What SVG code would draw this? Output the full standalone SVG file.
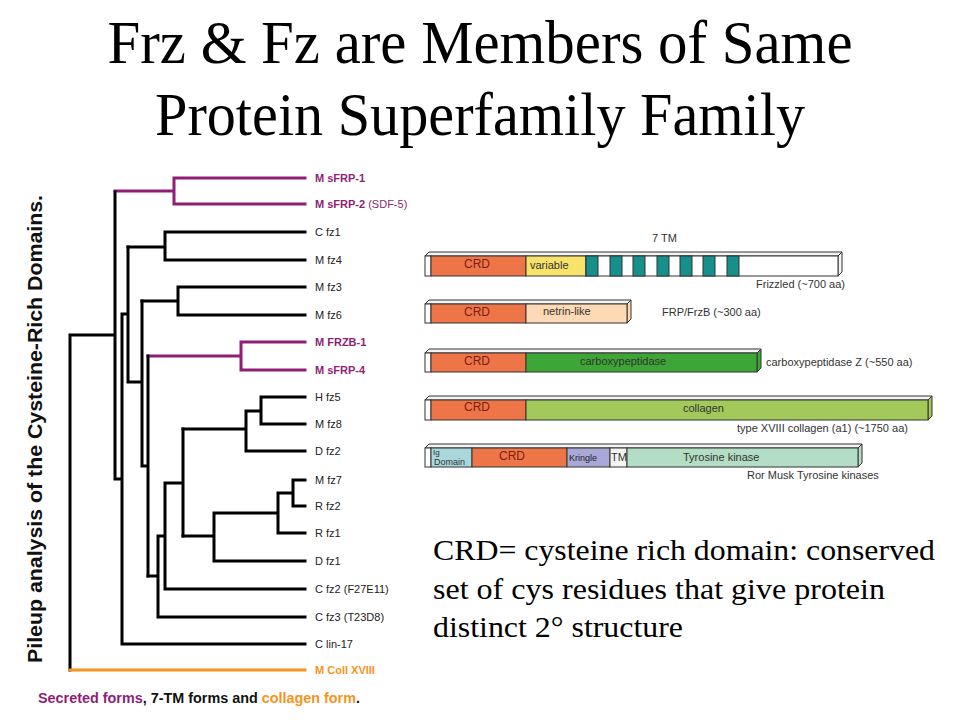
<svg xmlns="http://www.w3.org/2000/svg" width="960" height="720" viewBox="0 0 960 720">
<style>
.title{font-family:"Liberation Serif","Times New Roman",serif;font-size:61px;fill:#000}
.body{font-family:"Liberation Serif","Times New Roman",serif;font-size:29px;fill:#000}
.lbl{font-family:"Liberation Sans",Arial,sans-serif;font-size:11px;fill:#222}
.lblp{font-family:"Liberation Sans",Arial,sans-serif;font-size:11px;font-weight:bold;fill:#8E1F74}
.lblo{font-family:"Liberation Sans",Arial,sans-serif;font-size:11px;font-weight:bold;fill:#F7941D}
.reg{font-weight:normal}
.vt{font-family:"Liberation Sans",Arial,sans-serif;font-size:19.5px;font-weight:bold;fill:#111}
.cap{font-family:"Liberation Sans",Arial,sans-serif;font-size:14px;font-weight:bold;fill:#111}
.bk{fill:none;stroke:#000;stroke-width:3;stroke-linejoin:miter;stroke-linecap:square}
.pu{fill:none;stroke:#8E1F74;stroke-width:3;stroke-linecap:square}
.or{fill:none;stroke:#F7941D;stroke-width:3;stroke-linecap:square}
.seg{stroke:#333;stroke-width:1}
.bt{font-family:"Liberation Sans",Arial,sans-serif;font-size:11px;fill:#333}
.crdt{font-family:"Liberation Sans",Arial,sans-serif;font-size:12px;fill:#7A1E12;text-anchor:middle}
.crd{fill:#EE7547}
</style>

<g id="title">
<text class="title" x="480" y="63" text-anchor="middle" textLength="745" lengthAdjust="spacingAndGlyphs">Frz &amp; Fz are Members of Same</text>
<text class="title" x="480" y="135" text-anchor="middle" textLength="650" lengthAdjust="spacingAndGlyphs">Protein Superfamily Family</text>
</g>

<g id="axis-label">
<text class="vt" transform="translate(42,663) rotate(-90)" textLength="468" lengthAdjust="spacingAndGlyphs">Pileup analysis of the Cysteine-Rich Domains.</text>
</g>

<g id="connectors">
<path class="pu" d="M305 178 H174 V204 H305 M174 191 H115"/>
<path class="pu" d="M305 342 H241 V370 H305 M241 356 H148"/>
<path class="bk" d="M305 232 H165 V260 H305 M165 247 H128"/>
<path class="bk" d="M305 287 H178 V315 H305 M178 301 H142"/>
<path class="bk" d="M305 397 H261 V424 H305 M261 411 H246 M246 411 V451 H305 M246 429 H183"/>
<path class="bk" d="M305 480 H293 V506 H305 M293 493 H278 V533 H305 M278 513 H214 V561 H305 M214 536 H183"/>
<path class="bk" d="M183 429 V536 M183 483 H165 V589 H305 M165 536 H158 V617 H305 M158 576 H148"/>
<path class="bk" d="M148 356 V576 M148 466 H142 M142 301 V466 M142 382 H128 M128 247 V382 M128 314 H122 V644 H305 M122 479 H115 M115 192 V479 M115 335 H70 V670"/>
<path class="or" d="M70 670 H305"/>
</g>

<g id="leaf-sfrp1"><text class="lblp" x="315" y="182">M sFRP-1</text></g>
<g id="leaf-sfrp2"><text class="lblp" x="315" y="208">M sFRP-2 <tspan class="reg">(SDF-5)</tspan></text></g>
<g id="leaf-cfz1"><text class="lbl" x="315" y="236">C fz1</text></g>
<g id="leaf-mfz4"><text class="lbl" x="315" y="264">M fz4</text></g>
<g id="leaf-mfz3"><text class="lbl" x="315" y="291">M fz3</text></g>
<g id="leaf-mfz6"><text class="lbl" x="315" y="319">M fz6</text></g>
<g id="leaf-frzb1"><text class="lblp" x="315" y="346">M FRZB-1</text></g>
<g id="leaf-sfrp4"><text class="lblp" x="315" y="374">M sFRP-4</text></g>
<g id="leaf-hfz5"><text class="lbl" x="315" y="401">H fz5</text></g>
<g id="leaf-mfz8"><text class="lbl" x="315" y="428">M fz8</text></g>
<g id="leaf-dfz2"><text class="lbl" x="315" y="455">D fz2</text></g>
<g id="leaf-mfz7"><text class="lbl" x="315" y="484">M fz7</text></g>
<g id="leaf-rfz2"><text class="lbl" x="315" y="510">R fz2</text></g>
<g id="leaf-rfz1"><text class="lbl" x="315" y="537">R fz1</text></g>
<g id="leaf-dfz1"><text class="lbl" x="315" y="565">D fz1</text></g>
<g id="leaf-cfz2"><text class="lbl" x="315" y="593">C fz2 (F27E11)</text></g>
<g id="leaf-cfz3"><text class="lbl" x="315" y="621">C fz3 (T23D8)</text></g>
<g id="leaf-clin17"><text class="lbl" x="315" y="648">C lin-17</text></g>
<g id="leaf-coll18"><text class="lblo" x="315" y="674">M Coll XVIII</text></g>

<g id="caption">
<text class="cap" x="38" y="703" textLength="322" lengthAdjust="spacingAndGlyphs"><tspan fill="#8E1F74">Secreted forms</tspan>, 7-TM forms and <tspan fill="#F7941D">collagen form</tspan>.</text>
</g>

<!-- Bar 1: Frizzled -->
<g id="bar-frizzled">
<polygon class="seg" fill="#f4f4f4" points="425,256 429,252 842,252 838,256"/>
<polygon class="seg" fill="#f4f4f4" points="838,256 842,252 842,272 838,276"/>
<rect class="seg" x="425" y="256" width="6" height="20" fill="#fff"/>
<rect class="seg crd" x="431" y="256" width="95" height="20"/>
<rect class="seg" x="526" y="256" width="60" height="20" fill="#F8E36A"/>
<rect class="seg" x="586" y="256" width="252" height="20" fill="#fff"/>
<rect class="seg" x="586" y="256" width="12" height="20" fill="#15908D"/>
<rect class="seg" x="610" y="256" width="12" height="20" fill="#15908D"/>
<rect class="seg" x="633" y="256" width="12" height="20" fill="#15908D"/>
<rect class="seg" x="657" y="256" width="12" height="20" fill="#15908D"/>
<rect class="seg" x="680" y="256" width="12" height="20" fill="#15908D"/>
<rect class="seg" x="703" y="256" width="12" height="20" fill="#15908D"/>
<rect class="seg" x="727" y="256" width="12" height="20" fill="#15908D"/>
<text class="crdt" x="477" y="268">CRD</text>
<text class="bt" x="530" y="269">variable</text>
<text class="bt" x="652" y="242">7 TM</text>
<text class="bt" x="756" y="288">Frizzled (~700 aa)</text>
</g>

<!-- Bar 2: FRP/FrzB -->
<g id="bar-frp">
<polygon class="seg" fill="#f4f4f4" points="425,304 429,300 631,300 627,304"/>
<polygon class="seg" fill="#FDD9B5" points="627,304 631,300 631,319 627,323"/>
<rect class="seg" x="425" y="304" width="6" height="19" fill="#fff"/>
<rect class="seg crd" x="431" y="304" width="95" height="19"/>
<rect class="seg" x="526" y="304" width="101" height="19" fill="#FDD9B5"/>
<text class="crdt" x="477" y="316">CRD</text>
<text class="bt" x="543" y="315">netrin-like</text>
<text class="bt" x="662" y="316">FRP/FrzB (~300 aa)</text>
</g>

<!-- Bar 3: carboxypeptidase -->
<g id="bar-cpz">
<polygon class="seg" fill="#f4f4f4" points="425,353 429,349 761,349 757,353"/>
<polygon class="seg" fill="#3DA636" points="757,353 761,349 761,368 757,372"/>
<rect class="seg" x="425" y="353" width="6" height="19" fill="#fff"/>
<rect class="seg crd" x="431" y="353" width="95" height="19"/>
<rect class="seg" x="526" y="353" width="231" height="19" fill="#3DA636"/>
<text class="crdt" x="477" y="365">CRD</text>
<text class="bt" x="580" y="365">carboxypeptidase</text>
<text class="bt" x="766" y="366">carboxypeptidase Z (~550 aa)</text>
</g>

<!-- Bar 4: collagen -->
<g id="bar-collagen">
<polygon class="seg" fill="#f4f4f4" points="425,400 429,396 932,396 928,400"/>
<polygon class="seg" fill="#A3C95A" points="928,400 932,396 932,416 928,420"/>
<rect class="seg" x="425" y="400" width="6" height="20" fill="#fff"/>
<rect class="seg crd" x="431" y="400" width="95" height="20"/>
<rect class="seg" x="526" y="400" width="402" height="20" fill="#A3C95A"/>
<text class="crdt" x="477" y="411">CRD</text>
<text class="bt" x="683" y="412">collagen</text>
<text class="bt" x="737" y="432">type XVIII collagen (a1) (~1750 aa)</text>
</g>

<!-- Bar 5: tyrosine kinases -->
<g id="bar-rtk">
<polygon class="seg" fill="#f4f4f4" points="425,448 429,444 862,444 858,448"/>
<polygon class="seg" fill="#B4DDC5" points="858,448 862,444 862,463 858,467"/>
<rect class="seg" x="425" y="448" width="6" height="19" fill="#fff"/>
<rect class="seg" x="431" y="448" width="41" height="19" fill="#A9D7DC"/>
<rect class="seg crd" x="472" y="448" width="95" height="19"/>
<rect class="seg" x="567" y="448" width="43" height="19" fill="#A9A8D6"/>
<rect class="seg" x="610" y="448" width="17" height="19" fill="#f4f4f4"/>
<rect class="seg" x="627" y="448" width="231" height="19" fill="#B4DDC5"/>
<text class="bt" x="433" y="455" style="font-size:8px">Ig</text>
<text class="bt" x="434" y="465" style="font-size:9px">Domain</text>
<text class="crdt" x="512" y="460">CRD</text>
<text class="bt" x="569" y="461" style="font-size:9px;fill:#223">Kringle</text>
<text class="bt" x="611" y="461">TM</text>
<text class="bt" x="683" y="461">Tyrosine kinase</text>
<text class="bt" x="747" y="479">Ror  Musk Tyrosine kinases</text>
</g>

<g id="note">
<text class="body" x="433" y="560" textLength="502" lengthAdjust="spacingAndGlyphs">CRD= cysteine rich domain: conserved</text>
<text class="body" x="433" y="599" textLength="452" lengthAdjust="spacingAndGlyphs">set of cys residues that give protein</text>
<text class="body" x="433" y="637" textLength="250" lengthAdjust="spacingAndGlyphs">distinct 2° structure</text>
</g>
</svg>
